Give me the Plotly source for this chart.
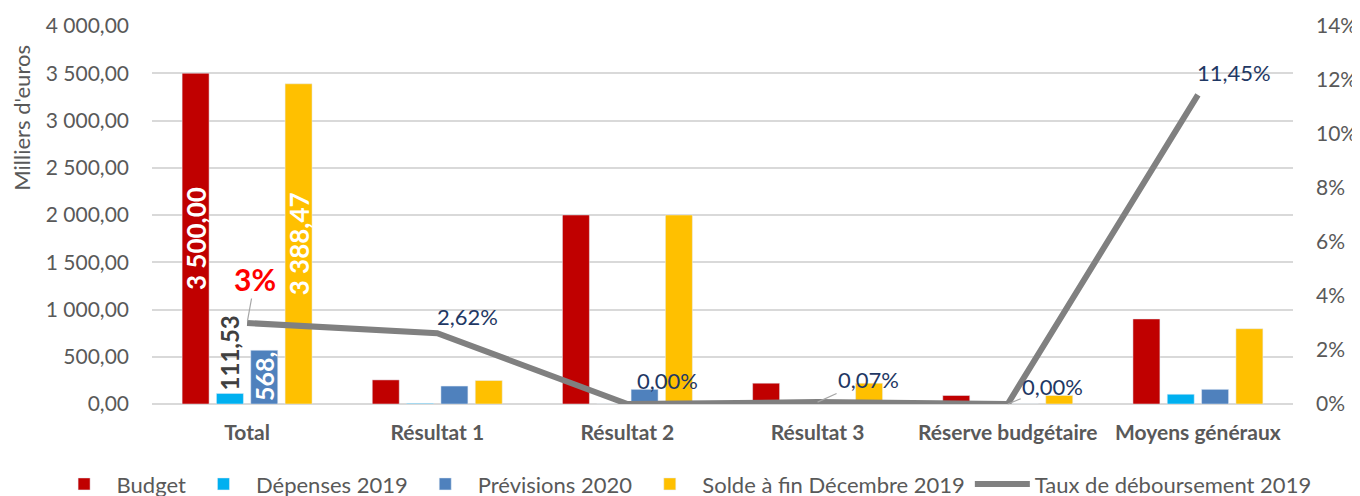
import plotly.graph_objects as go

categories = ["Total", "Résultat 1", "Résultat 2", "Résultat 3", "Réserve budgétaire", "Moyens généraux"]
budget = [3500.00, 255.00, 2000.00, 220.00, 90.00, 900.00]
depenses = [111.53, 6.68, 0.00, 0.15, 0.00, 103.05]
previsions = [568.16, 190.00, 155.00, 0.00, 0.00, 155.00]
solde = [3388.47, 248.32, 2000.00, 219.85, 90.00, 796.95]
taux = [0.0300, 0.0262, 0.0000, 0.0007, 0.0000, 0.1145]

series_names = ["Budget", "Dépenses 2019", "Prévisions 2020", "Solde à fin Décembre 2019",
                "Taux de déboursement 2019"]

FONT = "Lato"
GRAY = "#595959"
NAVY = "#1F3864"


def fr_num(v):
    return f"{v:,.2f}".replace(",", " ").replace(".", ",")


def fr_pct(v):
    return f"{v*100:.2f}%".replace(".", ",")


def first_only(vals):
    return [fr_num(v) if i == 0 else "" for i, v in enumerate(vals)]


fig = go.Figure()

fig.add_trace(go.Bar(
    x=categories, y=budget, name=series_names[0], marker_color="#C00000",
    text=first_only(budget), textposition="inside", insidetextanchor="middle",
    textangle=-90, constraintext="none",
    textfont=dict(family=FONT, size=26, color="white", weight="bold"),
))
fig.add_trace(go.Bar(
    x=categories, y=depenses, name=series_names[1], marker_color="#00B0F0",
    text=first_only(depenses), textposition="outside", textangle=-90,
    constraintext="none", cliponaxis=False,
    textfont=dict(family=FONT, size=24, color="#404040", weight="bold"),
))
fig.add_trace(go.Bar(
    x=categories, y=previsions, name=series_names[2], marker_color="#4F81BD",
    text=first_only(previsions), textposition="inside", insidetextanchor="start",
    textangle=-90, constraintext="none",
    textfont=dict(family=FONT, size=25, color="white", weight="bold"),
))
fig.add_trace(go.Bar(
    x=categories, y=solde, name=series_names[3], marker_color="#FFC000",
    text=first_only(solde), textposition="inside", insidetextanchor="middle",
    textangle=-90, constraintext="none",
    textfont=dict(family=FONT, size=26, color="white", weight="bold"),
))
fig.add_trace(go.Scatter(
    x=categories, y=taux, name=series_names[4], mode="lines", yaxis="y2",
    line=dict(color="#808080", width=6),
))

# data labels for the rate line (label offsets are styling only)
label_offsets = [None, (30, 17, False), (40, 24, False), (51, -23, True), (45, -18, True), (36, 22, False)]
annotations = []
for i, (c, v) in enumerate(zip(categories, taux)):
    off = label_offsets[i]
    if off is None:
        continue
    dx, dy, leader = off
    if leader:
        annotations.append(dict(
            x=c, y=v, xref="x", yref="y2", text=fr_pct(v), showarrow=True,
            ax=dx, ay=dy, arrowhead=0, arrowwidth=1.2, arrowcolor="#A6A6A6",
            font=dict(family=FONT, size=22, color=NAVY),
        ))
    else:
        annotations.append(dict(
            x=c, y=v, xref="x", yref="y2", text=fr_pct(v), showarrow=False,
            xshift=dx, yshift=dy,
            font=dict(family=FONT, size=22, color=NAVY),
        ))

# big red rounded label on Total
annotations.append(dict(
    x=categories[0], y=taux[0], xref="x", yref="y2", text=f"{round(taux[0]*100)}%",
    showarrow=True, ax=8, ay=-44, arrowhead=0, arrowwidth=1.2, arrowcolor="#A6A6A6",
    standoff=2, font=dict(family=FONT, size=30, color="#FF0000", weight="bold"),
))

# axis title
annotations.append(dict(
    x=-0.114, y=0.757, xref="paper", yref="paper", text="Milliers d'euros",
    textangle=-90, showarrow=False, xanchor="center", yanchor="middle",
    font=dict(family=FONT, size=22, color=GRAY),
))

# page body has an 8px margin: margins compensate so the plot area lands where the reference has it
fig.update_layout(
    width=1360, height=496,
    margin=dict(l=144, r=75, t=18, b=100, autoexpand=False),
    paper_bgcolor="white", plot_bgcolor="white",
    separators=", ",
    barmode="group", bargap=0.278, bargroupgap=0.214,
    font=dict(family=FONT, size=21, color=GRAY),
    showlegend=True,
    legend=dict(
        orientation="h", xref="paper", yref="paper",
        x=-0.088, xanchor="left", y=-0.212, yanchor="middle",
        font=dict(family=FONT, size=22, color=GRAY),
        itemwidth=55, tracegroupgap=0,
    ),
    xaxis=dict(
        showgrid=False, showline=False, ticks="", automargin=False,
        tickfont=dict(family=FONT, size=21, color=GRAY, weight="bold"),
        ticklabelstandoff=14,
    ),
    yaxis=dict(
        range=[0, 4000], dtick=500, tickformat=",.2f", automargin=False,
        showgrid=True, gridcolor="#D9D9D9", gridwidth=1.5,
        zeroline=True, zerolinecolor="#D9D9D9", zerolinewidth=1.5,
        showline=False, ticks="", ticklabelstandoff=22,
        tickfont=dict(family=FONT, size=21, color=GRAY),
    ),
    yaxis2=dict(
        range=[0, 0.14], dtick=0.02, tickformat=".0%", overlaying="y", side="right",
        automargin=False,
        showgrid=False, zeroline=False, showline=False, ticks="", ticklabelstandoff=22,
        tickfont=dict(family=FONT, size=21, color=GRAY),
    ),
    annotations=annotations,
)

fig.write_html("out.html")
